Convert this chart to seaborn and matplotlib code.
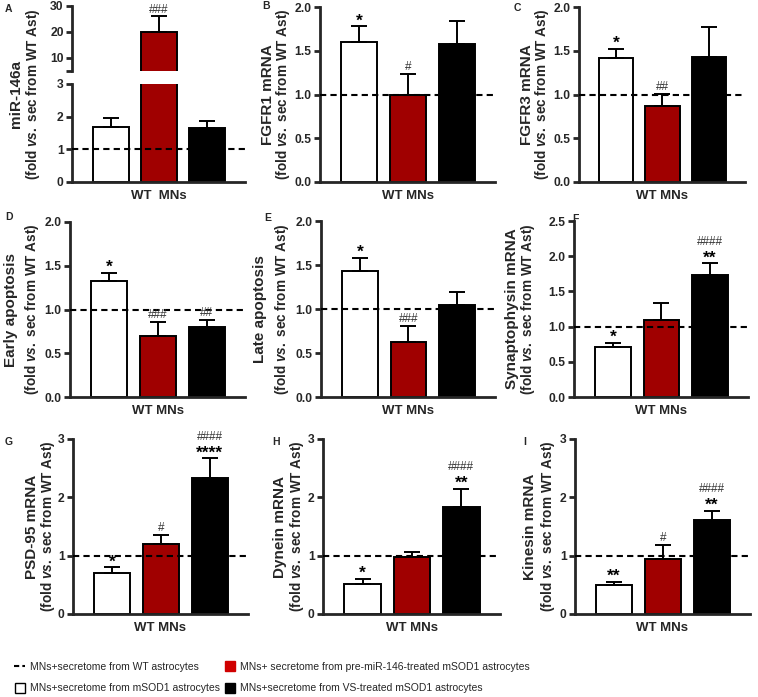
import numpy as np
import pandas as pd
import matplotlib
matplotlib.use("Agg")
import matplotlib.pyplot as plt
import seaborn as sns
from matplotlib.lines import Line2D

# ---------------- data ----------------
groups = ["mSOD1", "pre-miR-146", "VS"]

mir146a_mean = [1.68, 20.0, 1.65]
mir146a_sem = [0.27, 6.0, 0.23]
fgfr1_mean = [1.60, 0.99, 1.58]
fgfr1_sem = [0.18, 0.25, 0.26]
fgfr3_mean = [1.42, 0.87, 1.43]
fgfr3_sem = [0.10, 0.14, 0.34]
early_apop_mean = [1.33, 0.70, 0.80]
early_apop_sem = [0.09, 0.16, 0.08]
late_apop_mean = [1.43, 0.63, 1.05]
late_apop_sem = [0.15, 0.18, 0.14]
synaptophysin_mean = [0.71, 1.10, 1.73]
synaptophysin_sem = [0.06, 0.23, 0.17]
psd95_mean = [0.70, 1.20, 2.33]
psd95_sem = [0.10, 0.16, 0.34]
dynein_mean = [0.51, 0.97, 1.84]
dynein_sem = [0.09, 0.09, 0.31]
kinesin_mean = [0.49, 0.94, 1.61]
kinesin_sem = [0.06, 0.25, 0.16]

panel_letters = ["A", "B", "C", "D", "E", "F", "G", "H", "I"]
ylabel_main = ["miR-146a", "FGFR1 mRNA", "FGFR3 mRNA", "Early apoptosis",
               "Late apoptosis", "Synaptophysin mRNA", "PSD-95 mRNA",
               "Dynein mRNA", "Kinesin mRNA"]
ylabel_sub = r"(fold $\mathit{vs.}$ sec from WT Ast)"
xlabel_text = ["WT  MNs"] + ["WT MNs"] * 8

stars = [["", "", ""], ["*", "", ""], ["*", "", ""], ["*", "", ""],
         ["*", "", ""], ["*", "", "**"], ["*", "", "****"], ["*", "", "**"],
         ["**", "", "**"]]
hashes = [["", "###", ""], ["", "#", ""], ["", "##", ""], ["", "###", "##"],
          ["", "###", ""], ["", "", "####"], ["", "#", "####"], ["", "", "####"],
          ["", "#", "####"]]

legend_labels = ["MNs+secretome from WT astrocytes",
                 "MNs+secretome from mSOD1 astrocytes",
                 "MNs+ secretome from pre-miR-146-treated mSOD1 astrocytes",
                 "MNs+secretome from VS-treated mSOD1 astrocytes"]

# ---------------- style ----------------
sns.set_theme(style="ticks")
plt.rcParams["font.family"] = ["Liberation Sans", "DejaVu Sans"]
plt.rcParams["mathtext.fontset"] = "custom"
plt.rcParams["mathtext.rm"] = "Liberation Sans:bold"
plt.rcParams["mathtext.it"] = "Liberation Sans:italic:bold"
plt.rcParams["mathtext.bf"] = "Liberation Sans:bold"

RED = "#a00000"
palette = {"mSOD1": "white", "pre-miR-146": RED, "VS": "black"}

W, H = 758, 697
fig = plt.figure(figsize=(W / 100, H / 100), dpi=100)


def add_ax(l, t, r, b):
    return fig.add_axes([l / W, 1 - b / H, (r - l) / W, (b - t) / H])


def style_ax(ax, bottom=True):
    for s in ["top", "right"]:
        ax.spines[s].set_visible(False)
    ax.spines["left"].set_linewidth(2.0)
    ax.spines["bottom"].set_linewidth(2.0)
    if not bottom:
        ax.spines["bottom"].set_visible(False)
    ax.tick_params(axis="y", width=2.0, length=4, labelsize=8.7, pad=2,
                   direction="out", left=True)
    ax.tick_params(axis="x", bottom=False, labelbottom=False)
    for lab in ax.get_yticklabels():
        lab.set_fontweight("bold")


def bars(ax, mean, sem, show_err=True):
    df = pd.DataFrame({"group": groups, "value": mean})
    sns.barplot(data=df, x="group", y="value", hue="group", palette=palette,
                order=groups, hue_order=groups, dodge=False, errorbar=None,
                saturation=1, edgecolor="black", linewidth=1.4, width=0.74,
                legend=False, ax=ax)
    if show_err:
        ax.errorbar(np.arange(3), mean, yerr=[np.zeros(3), sem], fmt="none",
                    ecolor="black", elinewidth=1.4, capsize=6, capthick=1.4,
                    zorder=3)
    ax.set_xlabel("")
    ax.set_ylabel("")


def annotate(ax, mean, sem, st, hs):
    for i in range(3):
        top = mean[i] + sem[i]
        off = 0
        if st[i]:
            ax.annotate(st[i], xy=(i, top), xytext=(0, -1.5),
                        textcoords="offset points", ha="center", va="bottom",
                        fontsize=12.5, fontweight="bold", color="black",
                        zorder=5)
            off = 10.5
        if hs[i]:
            ax.annotate(hs[i], xy=(i, top), xytext=(0, off + 0.5),
                        textcoords="offset points", ha="center", va="bottom",
                        fontsize=8.5, color="#333333", zorder=5)


def ylabels(ax_left, idx, off1, off2, center_y):
    kw = dict(rotation=90, ha="center", va="center")
    fig.text(ax_left - off1 / W, center_y, ylabel_main[idx],
             fontsize=11, fontweight="bold", **kw)
    fig.text(ax_left - off2 / W, center_y, ylabel_sub,
             fontsize=9.8, fontweight="bold", **kw)


XLIM = (-0.8, 2.78)

# panel geometry (left, top, right, bottom) in pixels
geom = [None,
        (320, 7, 495, 182), (579, 7, 745, 182),
        (70, 222, 245, 397), (321, 221, 495, 397), (574, 221, 748, 397),
        (73, 439, 248, 614), (323, 439, 500, 614), (575, 439, 750, 614)]
ylab_offsets = [(56, 39), (52, 37), (52, 37), (59, 38), (61, 39), (62, 46),
                (41, 25), (43, 26), (45, 27)]
letter_pos = [(5, 9), (262, 6), (514, 8), (5, 217), (264, 218), (572, 219),
              (5, 442), (272, 442), (523, 442)]

means = [mir146a_mean, fgfr1_mean, fgfr3_mean, early_apop_mean, late_apop_mean,
         synaptophysin_mean, psd95_mean, dynein_mean, kinesin_mean]
sems = [mir146a_sem, fgfr1_sem, fgfr3_sem, early_apop_sem, late_apop_sem,
        synaptophysin_sem, psd95_sem, dynein_sem, kinesin_sem]

# ---------- Panel A (broken axis) ----------
axA_lo = add_ax(72, 84, 245, 182)
axA_hi = add_ax(72, 6, 245, 71)
bars(axA_lo, mir146a_mean, mir146a_sem)
bars(axA_hi, mir146a_mean, mir146a_sem)
axA_lo.set_ylim(0, 3)
axA_lo.set_yticks([0, 1, 2, 3])
axA_hi.set_ylim(5, 30)
axA_hi.set_yticks([5, 10, 20, 30])
axA_hi.set_yticklabels(["", "10", "20", "30"])
for a in (axA_lo, axA_hi):
    a.set_xlim(*XLIM)
axA_lo.axhline(1, color="black", lw=1.5, ls=(0, (3, 2)), zorder=4)
style_ax(axA_lo)
style_ax(axA_hi, bottom=False)
annotate(axA_hi, mir146a_mean, mir146a_sem, stars[0], hashes[0])
axA_lo.set_xlabel(xlabel_text[0], fontsize=9.5, fontweight="bold", labelpad=6)
ylabels(72 / W, 0, *ylab_offsets[0], center_y=1 - 94 / H)

# ---------- other panels ----------
for k in range(1, 9):
    l, t, r, b = geom[k]
    ax = add_ax(l, t, r, b)
    bars(ax, means[k], sems[k])
    ax.set_xlim(*XLIM)
    if k <= 4:
        ax.set_ylim(0, 2.0)
        ax.set_yticks([0, 0.5, 1.0, 1.5, 2.0])
        ax.set_yticklabels(["0.0", "0.5", "1.0", "1.5", "2.0"])
    elif k == 5:
        ax.set_ylim(0, 2.5)
        ax.set_yticks([0, 0.5, 1.0, 1.5, 2.0, 2.5])
        ax.set_yticklabels(["0.0", "0.5", "1.0", "1.5", "2.0", "2.5"])
    else:
        ax.set_ylim(0, 3)
        ax.set_yticks([0, 1, 2, 3])
    ax.axhline(1, color="black", lw=1.5, ls=(0, (3, 2)), zorder=4)
    style_ax(ax)
    annotate(ax, means[k], sems[k], stars[k], hashes[k])
    ax.set_xlabel(xlabel_text[k], fontsize=9.5, fontweight="bold", labelpad=6)
    ylabels(l / W, k, *ylab_offsets[k], center_y=1 - ((t + b) / 2) / H)

for k, (x, y) in enumerate(letter_pos):
    fig.text(x / W, 1 - y / H, panel_letters[k], fontsize=7.5,
             fontweight="bold", ha="left", va="center")

# ---------- legend ----------
handles = [
    Line2D([0], [0], color="black", lw=1.5, ls=(0, (2.5, 1.5))),
    Line2D([], [], marker="s", ls="none", markerfacecolor="white",
           markeredgecolor="black", markeredgewidth=1.0, markersize=7),
    Line2D([], [], marker="s", ls="none", markerfacecolor="#d00000",
           markeredgecolor="#d00000", markersize=7),
    Line2D([], [], marker="s", ls="none", markerfacecolor="black",
           markeredgecolor="black", markersize=7),
]
leg = fig.legend(handles, legend_labels, ncol=2, loc="upper left",
                 bbox_to_anchor=(14 / W, 1 - 662 / H), frameon=False,
                 borderpad=0, borderaxespad=0, handlelength=1.1,
                 handletextpad=0.45, columnspacing=0.35, labelspacing=1.1,
                 prop={"family": ["Liberation Sans"], "size": 7.5})

fig.savefig("out.png", dpi=100)
